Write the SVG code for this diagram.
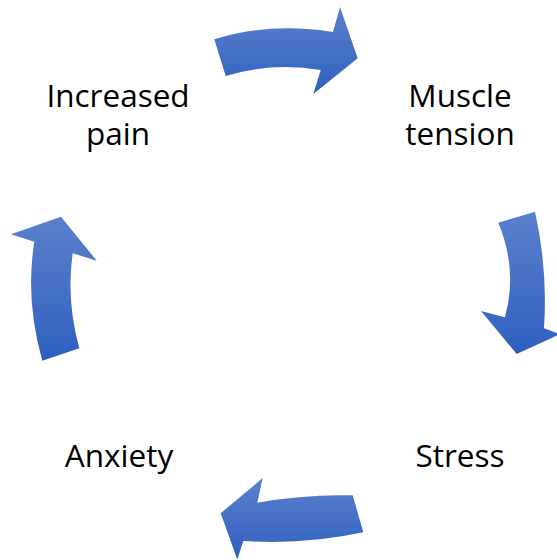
<svg xmlns="http://www.w3.org/2000/svg" width="557" height="560" viewBox="0 0 557 560">
  <defs>
    <linearGradient id="g" x1="0" y1="0" x2="0" y2="1">
      <stop offset="0" stop-color="#5b80cc"/>
      <stop offset="1" stop-color="#2f60c0"/>
    </linearGradient>
  </defs>
  <style>
    .lbl { font-family: "Open Sans", "Liberation Sans", sans-serif; font-size: 31.5px; fill: #000; text-anchor: middle; }
    .arr { fill: url(#g); stroke: none; }
  </style>
  <rect width="557" height="560" fill="#fff"/>
  <g id="connectors">
    <path class="arr" d="M214.3,39.3 Q270,22 333,32 L340,7 L357.7,58.3 L313.3,94 L320.7,70 Q272,62 225.7,76 Z"/>
    <path class="arr" d="M498.3,222.7 L535,211.7 Q548,270 544,328.3 L560,334 L516.7,354 L481,311 L505,317.3 Q518,270 498.3,222.7 Z"/>
    <path class="arr" d="M352.7,495.3 Q305,494 257.3,502.7 L262.7,478 L220.7,513.3 L237.3,559.5 L243.3,541 Q305,545 363.3,532.3 Z"/>
    <path class="arr" d="M42.3,360.7 Q25,300 34.3,241.7 L11,234.3 L61,216.7 L96.7,260.7 L72.7,253.3 Q66,300 79.3,348.3 Z"/>
  </g>
  <g id="node-increased-pain">
    <text class="lbl" x="118" y="107"><tspan x="118" y="107">Increased</tspan><tspan x="118" y="145">pain</tspan></text>
  </g>
  <g id="node-muscle-tension">
    <text class="lbl" x="460" y="107"><tspan x="460" y="107">Muscle</tspan><tspan x="460" y="145">tension</tspan></text>
  </g>
  <g id="node-stress">
    <text class="lbl" x="460" y="467">Stress</text>
  </g>
  <g id="node-anxiety">
    <text class="lbl" x="119" y="467">Anxiety</text>
  </g>
</svg>
